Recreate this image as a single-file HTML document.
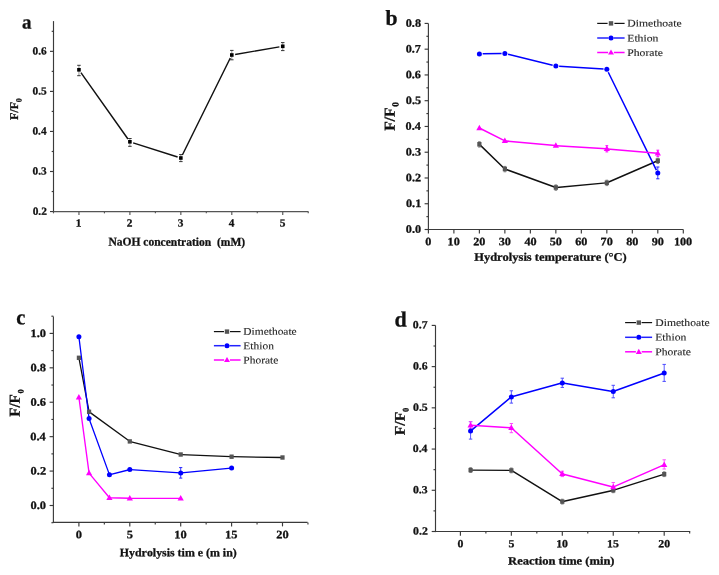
<!DOCTYPE html>
<html><head><meta charset="utf-8"><title>Figure</title>
<style>html,body{margin:0;padding:0;background:#fff;}svg{display:block;will-change:transform;}text{font-family:"Liberation Serif",serif;font-kerning:none;text-rendering:geometricPrecision;}text[font-weight="bold"]{stroke:#111;stroke-width:0.28px;}</style>
</head><body>
<svg width="719" height="575" viewBox="0 0 719 575">
<rect width="719" height="575" fill="#fff"/>
<line x1="53.5" y1="21.1" x2="53.5" y2="212.15" stroke="#3a3a3a" stroke-width="1.15"/>
<line x1="52.9" y1="211.55" x2="308.4" y2="211.55" stroke="#555" stroke-width="1.15"/>
<line x1="78.95" y1="211.55" x2="78.95" y2="215.05" stroke="#555" stroke-width="1.15"/>
<line x1="129.9" y1="211.55" x2="129.9" y2="215.05" stroke="#555" stroke-width="1.15"/>
<line x1="180.85" y1="211.55" x2="180.85" y2="215.05" stroke="#555" stroke-width="1.15"/>
<line x1="231.8" y1="211.55" x2="231.8" y2="215.05" stroke="#555" stroke-width="1.15"/>
<line x1="282.75" y1="211.55" x2="282.75" y2="215.05" stroke="#555" stroke-width="1.15"/>
<line x1="53.48" y1="211.55" x2="53.48" y2="213.35" stroke="#555" stroke-width="1.15"/>
<line x1="104.43" y1="211.55" x2="104.43" y2="213.35" stroke="#555" stroke-width="1.15"/>
<line x1="155.38" y1="211.55" x2="155.38" y2="213.35" stroke="#555" stroke-width="1.15"/>
<line x1="206.32" y1="211.55" x2="206.32" y2="213.35" stroke="#555" stroke-width="1.15"/>
<line x1="257.28" y1="211.55" x2="257.28" y2="213.35" stroke="#555" stroke-width="1.15"/>
<line x1="308.23" y1="211.55" x2="308.23" y2="213.35" stroke="#555" stroke-width="1.15"/>
<line x1="53.5" y1="211.55" x2="50" y2="211.55" stroke="#3a3a3a" stroke-width="1.15"/>
<line x1="53.5" y1="171.5" x2="50" y2="171.5" stroke="#3a3a3a" stroke-width="1.15"/>
<line x1="53.5" y1="131.45" x2="50" y2="131.45" stroke="#3a3a3a" stroke-width="1.15"/>
<line x1="53.5" y1="91.4" x2="50" y2="91.4" stroke="#3a3a3a" stroke-width="1.15"/>
<line x1="53.5" y1="51.35" x2="50" y2="51.35" stroke="#3a3a3a" stroke-width="1.15"/>
<line x1="53.5" y1="191.53" x2="51.7" y2="191.53" stroke="#3a3a3a" stroke-width="1.15"/>
<line x1="53.5" y1="151.48" x2="51.7" y2="151.48" stroke="#3a3a3a" stroke-width="1.15"/>
<line x1="53.5" y1="111.43" x2="51.7" y2="111.43" stroke="#3a3a3a" stroke-width="1.15"/>
<line x1="53.5" y1="71.38" x2="51.7" y2="71.38" stroke="#3a3a3a" stroke-width="1.15"/>
<line x1="53.5" y1="31.33" x2="51.7" y2="31.33" stroke="#3a3a3a" stroke-width="1.15"/>
<text transform="translate(32.67,214.65) scale(1.0400,1) rotate(0.03)" font-size="10.9" font-weight="bold" fill="#111">0.2</text>
<text transform="translate(32.57,174.6) scale(1.0400,1) rotate(0.03)" font-size="10.9" font-weight="bold" fill="#111">0.3</text>
<text transform="translate(32.39,134.55) scale(1.0400,1) rotate(0.03)" font-size="10.9" font-weight="bold" fill="#111">0.4</text>
<text transform="translate(32.6,94.5) scale(1.0400,1) rotate(0.03)" font-size="10.9" font-weight="bold" fill="#111">0.5</text>
<text transform="translate(32.51,54.45) scale(1.0400,1) rotate(0.03)" font-size="10.9" font-weight="bold" fill="#111">0.6</text>
<text transform="translate(75.76,226.5) scale(1.0400,1) rotate(0.03)" font-size="10.9" font-weight="bold" fill="#111">1</text>
<text transform="translate(126.87,226.5) scale(1.0400,1) rotate(0.03)" font-size="10.9" font-weight="bold" fill="#111">2</text>
<text transform="translate(177.8,226.5) scale(1.0400,1) rotate(0.03)" font-size="10.9" font-weight="bold" fill="#111">3</text>
<text transform="translate(228.79,226.5) scale(1.0400,1) rotate(0.03)" font-size="10.9" font-weight="bold" fill="#111">4</text>
<text transform="translate(279.7,226.5) scale(1.0400,1) rotate(0.03)" font-size="10.9" font-weight="bold" fill="#111">5</text>
<text transform="translate(108.38,245.6) scale(0.9696,1) rotate(0.03)" font-size="11.9" font-weight="bold" fill="#111" xml:space="preserve">NaOH concentration &#160;(mM)</text>
<g transform="translate(18.1,119.8) rotate(-89.97)"><text transform="translate(-0.2,0) scale(1.0075,1) rotate(0.03)" font-size="11.9" font-weight="bold" fill="#111">F/F</text></g>
<g transform="translate(21.5,101.9) rotate(-89.97)"><text x="-0.3" y="0" font-size="8.0" font-weight="bold" fill="#111">0</text></g>
<text transform="translate(22.09,28.6) scale(0.9694,1) rotate(0.03)" font-size="19.6" font-weight="bold" fill="#111" xml:space="preserve">a</text>
<line x1="78.95" y1="65.3" x2="78.95" y2="75.7" stroke="#888" stroke-width="0.9"/>
<line x1="77.2" y1="65.3" x2="80.7" y2="65.3" stroke="#333" stroke-width="1.0"/>
<line x1="77.2" y1="75.7" x2="80.7" y2="75.7" stroke="#333" stroke-width="1.0"/>
<line x1="129.9" y1="138.5" x2="129.9" y2="146.3" stroke="#888" stroke-width="0.9"/>
<line x1="128.15" y1="138.5" x2="131.65" y2="138.5" stroke="#333" stroke-width="1.0"/>
<line x1="128.15" y1="146.3" x2="131.65" y2="146.3" stroke="#333" stroke-width="1.0"/>
<line x1="180.85" y1="154.6" x2="180.85" y2="161.6" stroke="#888" stroke-width="0.9"/>
<line x1="179.1" y1="154.6" x2="182.6" y2="154.6" stroke="#333" stroke-width="1.0"/>
<line x1="179.1" y1="161.6" x2="182.6" y2="161.6" stroke="#333" stroke-width="1.0"/>
<line x1="231.8" y1="50.4" x2="231.8" y2="59.8" stroke="#888" stroke-width="0.9"/>
<line x1="230.05" y1="50.4" x2="233.55" y2="50.4" stroke="#333" stroke-width="1.0"/>
<line x1="230.05" y1="59.8" x2="233.55" y2="59.8" stroke="#333" stroke-width="1.0"/>
<line x1="282.75" y1="42.6" x2="282.75" y2="50.6" stroke="#888" stroke-width="0.9"/>
<line x1="281" y1="42.6" x2="284.5" y2="42.6" stroke="#333" stroke-width="1.0"/>
<line x1="281" y1="50.6" x2="284.5" y2="50.6" stroke="#333" stroke-width="1.0"/>
<path d="M80.91 72.58L127.94 139.02M133.14 142.83L177.61 156.97M182.36 154.95L230.29 58.05M235.15 54.43L279.4 46.87" fill="none" stroke="#111111" stroke-width="1.45"/>
<rect x="77.15" y="68" width="3.6" height="3.6" fill="#000"/>
<rect x="128.1" y="140" width="3.6" height="3.6" fill="#000"/>
<rect x="179.05" y="156.2" width="3.6" height="3.6" fill="#000"/>
<rect x="230" y="53.2" width="3.6" height="3.6" fill="#000"/>
<rect x="280.95" y="44.5" width="3.6" height="3.6" fill="#000"/>
<line x1="428.4" y1="23.5" x2="428.4" y2="230.1" stroke="#3a3a3a" stroke-width="1.15"/>
<line x1="427.8" y1="229.5" x2="683.3" y2="229.5" stroke="#3a3a3a" stroke-width="1.15"/>
<line x1="428.4" y1="229.5" x2="428.4" y2="233.6" stroke="#3a3a3a" stroke-width="1.15"/>
<line x1="453.89" y1="229.5" x2="453.89" y2="233.6" stroke="#3a3a3a" stroke-width="1.15"/>
<line x1="479.38" y1="229.5" x2="479.38" y2="233.6" stroke="#3a3a3a" stroke-width="1.15"/>
<line x1="504.87" y1="229.5" x2="504.87" y2="233.6" stroke="#3a3a3a" stroke-width="1.15"/>
<line x1="530.36" y1="229.5" x2="530.36" y2="233.6" stroke="#3a3a3a" stroke-width="1.15"/>
<line x1="555.85" y1="229.5" x2="555.85" y2="233.6" stroke="#3a3a3a" stroke-width="1.15"/>
<line x1="581.34" y1="229.5" x2="581.34" y2="233.6" stroke="#3a3a3a" stroke-width="1.15"/>
<line x1="606.83" y1="229.5" x2="606.83" y2="233.6" stroke="#3a3a3a" stroke-width="1.15"/>
<line x1="632.32" y1="229.5" x2="632.32" y2="233.6" stroke="#3a3a3a" stroke-width="1.15"/>
<line x1="657.81" y1="229.5" x2="657.81" y2="233.6" stroke="#3a3a3a" stroke-width="1.15"/>
<line x1="683.3" y1="229.5" x2="683.3" y2="233.6" stroke="#3a3a3a" stroke-width="1.15"/>
<line x1="428.4" y1="229.5" x2="424.6" y2="229.5" stroke="#3a3a3a" stroke-width="1.15"/>
<line x1="428.4" y1="203.74" x2="424.6" y2="203.74" stroke="#3a3a3a" stroke-width="1.15"/>
<line x1="428.4" y1="177.98" x2="424.6" y2="177.98" stroke="#3a3a3a" stroke-width="1.15"/>
<line x1="428.4" y1="152.22" x2="424.6" y2="152.22" stroke="#3a3a3a" stroke-width="1.15"/>
<line x1="428.4" y1="126.46" x2="424.6" y2="126.46" stroke="#3a3a3a" stroke-width="1.15"/>
<line x1="428.4" y1="100.7" x2="424.6" y2="100.7" stroke="#3a3a3a" stroke-width="1.15"/>
<line x1="428.4" y1="74.94" x2="424.6" y2="74.94" stroke="#3a3a3a" stroke-width="1.15"/>
<line x1="428.4" y1="49.18" x2="424.6" y2="49.18" stroke="#3a3a3a" stroke-width="1.15"/>
<line x1="428.4" y1="23.42" x2="424.6" y2="23.42" stroke="#3a3a3a" stroke-width="1.15"/>
<line x1="428.4" y1="216.62" x2="426.4" y2="216.62" stroke="#3a3a3a" stroke-width="1.15"/>
<line x1="428.4" y1="190.86" x2="426.4" y2="190.86" stroke="#3a3a3a" stroke-width="1.15"/>
<line x1="428.4" y1="165.1" x2="426.4" y2="165.1" stroke="#3a3a3a" stroke-width="1.15"/>
<line x1="428.4" y1="139.34" x2="426.4" y2="139.34" stroke="#3a3a3a" stroke-width="1.15"/>
<line x1="428.4" y1="113.58" x2="426.4" y2="113.58" stroke="#3a3a3a" stroke-width="1.15"/>
<line x1="428.4" y1="87.82" x2="426.4" y2="87.82" stroke="#3a3a3a" stroke-width="1.15"/>
<line x1="428.4" y1="62.06" x2="426.4" y2="62.06" stroke="#3a3a3a" stroke-width="1.15"/>
<line x1="428.4" y1="36.3" x2="426.4" y2="36.3" stroke="#3a3a3a" stroke-width="1.15"/>
<text transform="translate(405.81,232.78) scale(1.0800,1) rotate(0.03)" font-size="11.3" font-weight="bold" fill="#111">0.0</text>
<text transform="translate(405.98,207.02) scale(1.0800,1) rotate(0.03)" font-size="11.3" font-weight="bold" fill="#111">0.1</text>
<text transform="translate(405.87,181.26) scale(1.0800,1) rotate(0.03)" font-size="11.3" font-weight="bold" fill="#111">0.2</text>
<text transform="translate(405.76,155.5) scale(1.0800,1) rotate(0.03)" font-size="11.3" font-weight="bold" fill="#111">0.3</text>
<text transform="translate(405.57,129.74) scale(1.0800,1) rotate(0.03)" font-size="11.3" font-weight="bold" fill="#111">0.4</text>
<text transform="translate(405.79,103.98) scale(1.0800,1) rotate(0.03)" font-size="11.3" font-weight="bold" fill="#111">0.5</text>
<text transform="translate(405.7,78.22) scale(1.0800,1) rotate(0.03)" font-size="11.3" font-weight="bold" fill="#111">0.6</text>
<text transform="translate(405.64,52.46) scale(1.0800,1) rotate(0.03)" font-size="11.3" font-weight="bold" fill="#111">0.7</text>
<text transform="translate(405.75,26.7) scale(1.0800,1) rotate(0.03)" font-size="11.3" font-weight="bold" fill="#111">0.8</text>
<text transform="translate(425.35,245.3) scale(1.0800,1) rotate(0.03)" font-size="11.3" font-weight="bold" fill="#111">0</text>
<text transform="translate(447.53,245.3) scale(1.0800,1) rotate(0.03)" font-size="11.3" font-weight="bold" fill="#111">10</text>
<text transform="translate(473.25,245.3) scale(1.0800,1) rotate(0.03)" font-size="11.3" font-weight="bold" fill="#111">20</text>
<text transform="translate(498.77,245.3) scale(1.0800,1) rotate(0.03)" font-size="11.3" font-weight="bold" fill="#111">30</text>
<text transform="translate(524.41,245.3) scale(1.0800,1) rotate(0.03)" font-size="11.3" font-weight="bold" fill="#111">40</text>
<text transform="translate(549.74,245.3) scale(1.0800,1) rotate(0.03)" font-size="11.3" font-weight="bold" fill="#111">50</text>
<text transform="translate(575.26,245.3) scale(1.0800,1) rotate(0.03)" font-size="11.3" font-weight="bold" fill="#111">60</text>
<text transform="translate(600.61,245.3) scale(1.0800,1) rotate(0.03)" font-size="11.3" font-weight="bold" fill="#111">70</text>
<text transform="translate(626.25,245.3) scale(1.0800,1) rotate(0.03)" font-size="11.3" font-weight="bold" fill="#111">80</text>
<text transform="translate(651.77,245.3) scale(1.0800,1) rotate(0.03)" font-size="11.3" font-weight="bold" fill="#111">90</text>
<text transform="translate(673.89,245.3) scale(1.0800,1) rotate(0.03)" font-size="11.3" font-weight="bold" fill="#111">100</text>
<text transform="translate(474.19,260.8) scale(1.0760,1) rotate(0.03)" font-size="11.6" font-weight="bold" fill="#111" xml:space="preserve">Hydrolysis temperature (&#176;C)</text>
<g transform="translate(394.7,130.6) rotate(-89.97)"><text transform="translate(-0.27,0) scale(1.0160,1) rotate(0.03)" font-size="15.3" font-weight="bold" fill="#111">F/F</text></g>
<g transform="translate(398.5,106.5) rotate(-89.97)"><text x="-0.36" y="0" font-size="9.4" font-weight="bold" fill="#111">0</text></g>
<text transform="translate(385.52,25.1) scale(1.0080,1) rotate(0.03)" font-size="21.5" font-weight="bold" fill="#111" xml:space="preserve">b</text>
<line x1="479.38" y1="141.7" x2="479.38" y2="147.1" stroke="#888" stroke-width="0.9"/>
<line x1="478.08" y1="141.7" x2="480.68" y2="141.7" stroke="#888" stroke-width="1.0"/>
<line x1="478.08" y1="147.1" x2="480.68" y2="147.1" stroke="#888" stroke-width="1.0"/>
<line x1="504.87" y1="166.4" x2="504.87" y2="171.8" stroke="#888" stroke-width="0.9"/>
<line x1="503.57" y1="166.4" x2="506.17" y2="166.4" stroke="#888" stroke-width="1.0"/>
<line x1="503.57" y1="171.8" x2="506.17" y2="171.8" stroke="#888" stroke-width="1.0"/>
<line x1="555.85" y1="184.9" x2="555.85" y2="190.3" stroke="#888" stroke-width="0.9"/>
<line x1="554.55" y1="184.9" x2="557.15" y2="184.9" stroke="#888" stroke-width="1.0"/>
<line x1="554.55" y1="190.3" x2="557.15" y2="190.3" stroke="#888" stroke-width="1.0"/>
<line x1="606.83" y1="180.2" x2="606.83" y2="185.6" stroke="#888" stroke-width="0.9"/>
<line x1="605.53" y1="180.2" x2="608.13" y2="180.2" stroke="#888" stroke-width="1.0"/>
<line x1="605.53" y1="185.6" x2="608.13" y2="185.6" stroke="#888" stroke-width="1.0"/>
<line x1="657.81" y1="158.1" x2="657.81" y2="163.5" stroke="#888" stroke-width="0.9"/>
<line x1="656.51" y1="158.1" x2="659.11" y2="158.1" stroke="#888" stroke-width="1.0"/>
<line x1="656.51" y1="163.5" x2="659.11" y2="163.5" stroke="#888" stroke-width="1.0"/>
<line x1="657.81" y1="167" x2="657.81" y2="178.8" stroke="#2222ff" stroke-width="0.9"/>
<line x1="656.21" y1="167" x2="659.41" y2="167" stroke="#2222ff" stroke-width="1.0"/>
<line x1="656.21" y1="178.8" x2="659.41" y2="178.8" stroke="#2222ff" stroke-width="1.0"/>
<line x1="606.83" y1="145.7" x2="606.83" y2="151.9" stroke="#ff00ff" stroke-width="0.9"/>
<line x1="605.43" y1="145.7" x2="608.23" y2="145.7" stroke="#ff00ff" stroke-width="1.0"/>
<line x1="605.43" y1="151.9" x2="608.23" y2="151.9" stroke="#ff00ff" stroke-width="1.0"/>
<line x1="657.81" y1="150.2" x2="657.81" y2="156.4" stroke="#ff00ff" stroke-width="0.9"/>
<line x1="656.41" y1="150.2" x2="659.21" y2="150.2" stroke="#ff00ff" stroke-width="1.0"/>
<line x1="656.41" y1="156.4" x2="659.21" y2="156.4" stroke="#ff00ff" stroke-width="1.0"/>
<path d="M479.95 144.86L504.3 168.44M505.62 169.27L555.1 187.23M556.65 187.43L606.03 182.87M607.56 182.48L657.08 161.02" fill="none" stroke="#111111" stroke-width="1.45"/>
<path d="M482.68 53.85L501.57 53.55M508.08 54.29L552.64 65.21M559.14 66.21L603.54 69.09M608.28 72.26L656.36 170.14" fill="none" stroke="#0000ff" stroke-width="1.5"/>
<path d="M479.83 128.23L504.42 140.67M505.37 140.95L555.35 145.55M556.35 145.63L606.33 148.87M607.33 148.94L657.31 153.36" fill="none" stroke="#ff00ff" stroke-width="1.5"/>
<rect x="477.28" y="142" width="4.2" height="4.6" fill="#555555"/>
<rect x="502.77" y="166.7" width="4.2" height="4.6" fill="#555555"/>
<rect x="553.75" y="185.2" width="4.2" height="4.6" fill="#555555"/>
<rect x="604.73" y="180.5" width="4.2" height="4.6" fill="#555555"/>
<rect x="655.71" y="158.4" width="4.2" height="4.6" fill="#555555"/>
<circle cx="479.38" cy="53.9" r="2.5" fill="#0000ff"/>
<circle cx="504.87" cy="53.5" r="2.5" fill="#0000ff"/>
<circle cx="555.85" cy="66" r="2.5" fill="#0000ff"/>
<circle cx="606.83" cy="69.3" r="2.5" fill="#0000ff"/>
<circle cx="657.81" cy="173.1" r="2.5" fill="#0000ff"/>
<polygon points="479.38,124.7 476.28,130.2 482.48,130.2" fill="#ff00ff"/>
<polygon points="504.87,137.6 501.77,143.1 507.97,143.1" fill="#ff00ff"/>
<polygon points="555.85,142.3 552.75,147.8 558.95,147.8" fill="#ff00ff"/>
<polygon points="606.83,145.6 603.73,151.1 609.93,151.1" fill="#ff00ff"/>
<polygon points="657.81,150.1 654.71,155.6 660.91,155.6" fill="#ff00ff"/>
<line x1="597.2" y1="23.4" x2="607.6" y2="23.4" stroke="#111111" stroke-width="1.2"/>
<line x1="614.4" y1="23.4" x2="624.6" y2="23.4" stroke="#111111" stroke-width="1.2"/>
<rect x="608.8" y="21.2" width="4.4" height="4.4" fill="#555555"/>
<text transform="translate(627.26,26.6) scale(1.1550,1) rotate(0.03)" font-size="10.1" fill="#262626" stroke="#262626" stroke-width="0.12">Dimethoate</text>
<line x1="597.2" y1="38" x2="608.5" y2="38" stroke="#2222ff" stroke-width="1.5"/>
<line x1="613.5" y1="38" x2="624.6" y2="38" stroke="#2222ff" stroke-width="1.5"/>
<circle cx="611" cy="38" r="2.5" fill="#0000ff"/>
<text transform="translate(627.26,41.4) scale(1.1550,1) rotate(0.03)" font-size="10.1" fill="#262626" stroke="#262626" stroke-width="0.12">Ethion</text>
<line x1="597.2" y1="52.5" x2="608.1" y2="52.5" stroke="#ff00ff" stroke-width="1.5"/>
<line x1="613.9" y1="52.5" x2="624.6" y2="52.5" stroke="#ff00ff" stroke-width="1.5"/>
<polygon points="611,49.38 608,54.58 614,54.58" fill="#ff00ff"/>
<text transform="translate(627.26,56) scale(1.1550,1) rotate(0.03)" font-size="10.1" fill="#262626" stroke="#262626" stroke-width="0.12">Phorate</text>
<line x1="53.4" y1="316.4" x2="53.4" y2="523" stroke="#3a3a3a" stroke-width="1.15"/>
<line x1="52.8" y1="522.4" x2="307.6" y2="522.4" stroke="#3a3a3a" stroke-width="1.15"/>
<line x1="78.9" y1="522.4" x2="78.9" y2="526.4" stroke="#3a3a3a" stroke-width="1.15"/>
<line x1="129.8" y1="522.4" x2="129.8" y2="526.4" stroke="#3a3a3a" stroke-width="1.15"/>
<line x1="180.7" y1="522.4" x2="180.7" y2="526.4" stroke="#3a3a3a" stroke-width="1.15"/>
<line x1="231.6" y1="522.4" x2="231.6" y2="526.4" stroke="#3a3a3a" stroke-width="1.15"/>
<line x1="282.5" y1="522.4" x2="282.5" y2="526.4" stroke="#3a3a3a" stroke-width="1.15"/>
<line x1="104.35" y1="522.4" x2="104.35" y2="524.4" stroke="#3a3a3a" stroke-width="1.15"/>
<line x1="155.25" y1="522.4" x2="155.25" y2="524.4" stroke="#3a3a3a" stroke-width="1.15"/>
<line x1="206.15" y1="522.4" x2="206.15" y2="524.4" stroke="#3a3a3a" stroke-width="1.15"/>
<line x1="257.05" y1="522.4" x2="257.05" y2="524.4" stroke="#3a3a3a" stroke-width="1.15"/>
<line x1="307.95" y1="522.4" x2="307.95" y2="524.4" stroke="#3a3a3a" stroke-width="1.15"/>
<line x1="53.4" y1="505.5" x2="49.6" y2="505.5" stroke="#3a3a3a" stroke-width="1.15"/>
<line x1="53.4" y1="471.08" x2="49.6" y2="471.08" stroke="#3a3a3a" stroke-width="1.15"/>
<line x1="53.4" y1="436.66" x2="49.6" y2="436.66" stroke="#3a3a3a" stroke-width="1.15"/>
<line x1="53.4" y1="402.24" x2="49.6" y2="402.24" stroke="#3a3a3a" stroke-width="1.15"/>
<line x1="53.4" y1="367.82" x2="49.6" y2="367.82" stroke="#3a3a3a" stroke-width="1.15"/>
<line x1="53.4" y1="333.4" x2="49.6" y2="333.4" stroke="#3a3a3a" stroke-width="1.15"/>
<line x1="53.4" y1="488.29" x2="51.4" y2="488.29" stroke="#3a3a3a" stroke-width="1.15"/>
<line x1="53.4" y1="453.87" x2="51.4" y2="453.87" stroke="#3a3a3a" stroke-width="1.15"/>
<line x1="53.4" y1="419.45" x2="51.4" y2="419.45" stroke="#3a3a3a" stroke-width="1.15"/>
<line x1="53.4" y1="385.03" x2="51.4" y2="385.03" stroke="#3a3a3a" stroke-width="1.15"/>
<line x1="53.4" y1="350.61" x2="51.4" y2="350.61" stroke="#3a3a3a" stroke-width="1.15"/>
<line x1="53.4" y1="316.19" x2="51.4" y2="316.19" stroke="#3a3a3a" stroke-width="1.15"/>
<line x1="53.4" y1="522.71" x2="51.4" y2="522.71" stroke="#3a3a3a" stroke-width="1.15"/>
<text transform="translate(30.54,508.98) scale(1.1000,1) rotate(0.03)" font-size="11.3" font-weight="bold" fill="#111">0.0</text>
<text transform="translate(30.6,474.56) scale(1.1000,1) rotate(0.03)" font-size="11.3" font-weight="bold" fill="#111">0.2</text>
<text transform="translate(30.29,440.14) scale(1.1000,1) rotate(0.03)" font-size="11.3" font-weight="bold" fill="#111">0.4</text>
<text transform="translate(30.43,405.72) scale(1.1000,1) rotate(0.03)" font-size="11.3" font-weight="bold" fill="#111">0.6</text>
<text transform="translate(30.48,371.3) scale(1.1000,1) rotate(0.03)" font-size="11.3" font-weight="bold" fill="#111">0.8</text>
<text transform="translate(30.54,336.88) scale(1.1000,1) rotate(0.03)" font-size="11.3" font-weight="bold" fill="#111">1.0</text>
<text transform="translate(75.79,538.3) scale(1.1000,1) rotate(0.03)" font-size="11.3" font-weight="bold" fill="#111">0</text>
<text transform="translate(126.67,538.3) scale(1.1000,1) rotate(0.03)" font-size="11.3" font-weight="bold" fill="#111">5</text>
<text transform="translate(174.22,538.3) scale(1.1000,1) rotate(0.03)" font-size="11.3" font-weight="bold" fill="#111">10</text>
<text transform="translate(225.11,538.3) scale(1.1000,1) rotate(0.03)" font-size="11.3" font-weight="bold" fill="#111">15</text>
<text transform="translate(276.26,538.3) scale(1.1000,1) rotate(0.03)" font-size="11.3" font-weight="bold" fill="#111">20</text>
<text transform="translate(119.8,556.2) scale(1.0440,1) rotate(0.03)" font-size="11.4" font-weight="bold" fill="#111" xml:space="preserve">Hydrolysis tim e (m in)</text>
<g transform="translate(19.7,416.6) rotate(-89.97)"><text transform="translate(-0.26,0) scale(0.9887,1) rotate(0.03)" font-size="15.3" font-weight="bold" fill="#111">F/F</text></g>
<g transform="translate(23.5,393.1) rotate(-89.97)"><text x="-0.32" y="0" font-size="8.4" font-weight="bold" fill="#111">0</text></g>
<text transform="translate(16.3,324.2) scale(0.9777,1) rotate(0.03)" font-size="21.0" font-weight="bold" fill="#111" xml:space="preserve">c</text>
<line x1="180.7" y1="467.6" x2="180.7" y2="478.1" stroke="#2222ff" stroke-width="0.9"/>
<line x1="179.1" y1="467.6" x2="182.3" y2="467.6" stroke="#2222ff" stroke-width="1.0"/>
<line x1="179.1" y1="478.1" x2="182.3" y2="478.1" stroke="#2222ff" stroke-width="1.0"/>
<path d="M79.01 358.39L88.97 411.21M89.57 412.15L129.31 441.05M130.38 441.55L180.12 454.35M181.3 454.53L231 456.67M232.2 456.71L281.9 457.49" fill="none" stroke="#111111" stroke-width="1.3"/>
<path d="M78.97 337.3L89.01 418M89.28 419.16L109.24 474.14M110.02 474.55L129.22 469.75M130.4 469.64L180.1 472.86M181.3 472.84L231 468.16" fill="none" stroke="#0000ff" stroke-width="1.3"/>
<path d="M78.94 397.6L89.04 472.8M89.27 473.33L109.25 497.47M109.74 497.71L129.5 498.29M130.1 498.3L180.4 498.4" fill="none" stroke="#ff00ff" stroke-width="1.35"/>
<rect x="76.8" y="355.6" width="4.2" height="4.4" fill="#555555"/>
<rect x="86.98" y="409.6" width="4.2" height="4.4" fill="#555555"/>
<rect x="127.7" y="439.2" width="4.2" height="4.4" fill="#555555"/>
<rect x="178.6" y="452.3" width="4.2" height="4.4" fill="#555555"/>
<rect x="229.5" y="454.5" width="4.2" height="4.4" fill="#555555"/>
<rect x="280.4" y="455.3" width="4.2" height="4.4" fill="#555555"/>
<circle cx="78.9" cy="336.7" r="2.5" fill="#0000ff"/>
<circle cx="89.08" cy="418.6" r="2.5" fill="#0000ff"/>
<circle cx="109.44" cy="474.7" r="2.5" fill="#0000ff"/>
<circle cx="129.8" cy="469.6" r="2.5" fill="#0000ff"/>
<circle cx="180.7" cy="472.9" r="2.5" fill="#0000ff"/>
<circle cx="231.6" cy="468.1" r="2.5" fill="#0000ff"/>
<polygon points="78.9,394 75.8,399.5 82,399.5" fill="#ff00ff"/>
<polygon points="89.08,469.8 85.98,475.3 92.18,475.3" fill="#ff00ff"/>
<polygon points="109.44,494.4 106.34,499.9 112.54,499.9" fill="#ff00ff"/>
<polygon points="129.8,495 126.7,500.5 132.9,500.5" fill="#ff00ff"/>
<polygon points="180.7,495.1 177.6,500.6 183.8,500.6" fill="#ff00ff"/>
<line x1="213.9" y1="331.6" x2="224" y2="331.6" stroke="#111111" stroke-width="1.2"/>
<line x1="230" y1="331.6" x2="240.6" y2="331.6" stroke="#111111" stroke-width="1.2"/>
<rect x="224.8" y="329.4" width="4.4" height="4.4" fill="#555555"/>
<text transform="translate(243.37,334.8) scale(1.1000,1) rotate(0.03)" font-size="10.4" fill="#262626" stroke="#262626" stroke-width="0.12">Dimethoate</text>
<line x1="213.9" y1="345.7" x2="224.5" y2="345.7" stroke="#2222ff" stroke-width="1.5"/>
<line x1="229.5" y1="345.7" x2="240.6" y2="345.7" stroke="#2222ff" stroke-width="1.5"/>
<circle cx="227" cy="345.7" r="2.5" fill="#0000ff"/>
<text transform="translate(243.37,349.2) scale(1.1000,1) rotate(0.03)" font-size="10.4" fill="#262626" stroke="#262626" stroke-width="0.12">Ethion</text>
<line x1="213.9" y1="360" x2="224.1" y2="360" stroke="#ff00ff" stroke-width="1.5"/>
<line x1="229.9" y1="360" x2="240.6" y2="360" stroke="#ff00ff" stroke-width="1.5"/>
<polygon points="227,356.88 224,362.08 230,362.08" fill="#ff00ff"/>
<text transform="translate(243.37,363.5) scale(1.1000,1) rotate(0.03)" font-size="10.4" fill="#262626" stroke="#262626" stroke-width="0.12">Phorate</text>
<line x1="435.5" y1="325.4" x2="435.5" y2="532.1" stroke="#3a3a3a" stroke-width="1.15"/>
<line x1="434.9" y1="531.5" x2="690.2" y2="531.5" stroke="#3a3a3a" stroke-width="1.15"/>
<line x1="460.4" y1="531.5" x2="460.4" y2="535.7" stroke="#3a3a3a" stroke-width="1.15"/>
<line x1="511.35" y1="531.5" x2="511.35" y2="535.7" stroke="#3a3a3a" stroke-width="1.15"/>
<line x1="562.3" y1="531.5" x2="562.3" y2="535.7" stroke="#3a3a3a" stroke-width="1.15"/>
<line x1="613.25" y1="531.5" x2="613.25" y2="535.7" stroke="#3a3a3a" stroke-width="1.15"/>
<line x1="664.2" y1="531.5" x2="664.2" y2="535.7" stroke="#3a3a3a" stroke-width="1.15"/>
<line x1="485.88" y1="531.5" x2="485.88" y2="533.5" stroke="#3a3a3a" stroke-width="1.15"/>
<line x1="536.82" y1="531.5" x2="536.82" y2="533.5" stroke="#3a3a3a" stroke-width="1.15"/>
<line x1="587.77" y1="531.5" x2="587.77" y2="533.5" stroke="#3a3a3a" stroke-width="1.15"/>
<line x1="638.72" y1="531.5" x2="638.72" y2="533.5" stroke="#3a3a3a" stroke-width="1.15"/>
<line x1="689.67" y1="531.5" x2="689.67" y2="533.5" stroke="#3a3a3a" stroke-width="1.15"/>
<line x1="435.5" y1="531.5" x2="431.7" y2="531.5" stroke="#3a3a3a" stroke-width="1.15"/>
<line x1="435.5" y1="490.28" x2="431.7" y2="490.28" stroke="#3a3a3a" stroke-width="1.15"/>
<line x1="435.5" y1="449.06" x2="431.7" y2="449.06" stroke="#3a3a3a" stroke-width="1.15"/>
<line x1="435.5" y1="407.84" x2="431.7" y2="407.84" stroke="#3a3a3a" stroke-width="1.15"/>
<line x1="435.5" y1="366.62" x2="431.7" y2="366.62" stroke="#3a3a3a" stroke-width="1.15"/>
<line x1="435.5" y1="325.4" x2="431.7" y2="325.4" stroke="#3a3a3a" stroke-width="1.15"/>
<line x1="435.5" y1="510.89" x2="433.5" y2="510.89" stroke="#3a3a3a" stroke-width="1.15"/>
<line x1="435.5" y1="469.67" x2="433.5" y2="469.67" stroke="#3a3a3a" stroke-width="1.15"/>
<line x1="435.5" y1="428.45" x2="433.5" y2="428.45" stroke="#3a3a3a" stroke-width="1.15"/>
<line x1="435.5" y1="387.23" x2="433.5" y2="387.23" stroke="#3a3a3a" stroke-width="1.15"/>
<line x1="435.5" y1="346.01" x2="433.5" y2="346.01" stroke="#3a3a3a" stroke-width="1.15"/>
<text transform="translate(413.09,534.45) scale(1.0800,1) rotate(0.03)" font-size="10.9" font-weight="bold" fill="#111">0.2</text>
<text transform="translate(412.99,493.23) scale(1.0800,1) rotate(0.03)" font-size="10.9" font-weight="bold" fill="#111">0.3</text>
<text transform="translate(412.8,452.01) scale(1.0800,1) rotate(0.03)" font-size="10.9" font-weight="bold" fill="#111">0.4</text>
<text transform="translate(413.02,410.79) scale(1.0800,1) rotate(0.03)" font-size="10.9" font-weight="bold" fill="#111">0.5</text>
<text transform="translate(412.93,369.57) scale(1.0800,1) rotate(0.03)" font-size="10.9" font-weight="bold" fill="#111">0.6</text>
<text transform="translate(412.87,328.35) scale(1.0800,1) rotate(0.03)" font-size="10.9" font-weight="bold" fill="#111">0.7</text>
<text transform="translate(457.46,547.2) scale(1.0800,1) rotate(0.03)" font-size="10.9" font-weight="bold" fill="#111">0</text>
<text transform="translate(508.39,547.2) scale(1.0800,1) rotate(0.03)" font-size="10.9" font-weight="bold" fill="#111">5</text>
<text transform="translate(556.17,547.2) scale(1.0800,1) rotate(0.03)" font-size="10.9" font-weight="bold" fill="#111">10</text>
<text transform="translate(607.11,547.2) scale(1.0800,1) rotate(0.03)" font-size="10.9" font-weight="bold" fill="#111">15</text>
<text transform="translate(658.29,547.2) scale(1.0800,1) rotate(0.03)" font-size="10.9" font-weight="bold" fill="#111">20</text>
<text transform="translate(508.09,564.5) scale(1.1197,1) rotate(0.03)" font-size="11.2" font-weight="bold" fill="#111" xml:space="preserve">Reaction time (min)</text>
<g transform="translate(404.7,434.9) rotate(-89.97)"><text transform="translate(-0.27,0) scale(1.0503,1) rotate(0.03)" font-size="14.8" font-weight="bold" fill="#111">F/F</text></g>
<g transform="translate(408.5,411.7) rotate(-89.97)"><text x="-0.33" y="0" font-size="8.6" font-weight="bold" fill="#111">0</text></g>
<text transform="translate(394.61,326.4) scale(1.0095,1) rotate(0.03)" font-size="21.8" font-weight="bold" fill="#111" xml:space="preserve">d</text>
<line x1="470.59" y1="467.7" x2="470.59" y2="472.5" stroke="#888" stroke-width="0.9"/>
<line x1="469.29" y1="467.7" x2="471.89" y2="467.7" stroke="#888" stroke-width="1.0"/>
<line x1="469.29" y1="472.5" x2="471.89" y2="472.5" stroke="#888" stroke-width="1.0"/>
<line x1="511.35" y1="468" x2="511.35" y2="472.8" stroke="#888" stroke-width="0.9"/>
<line x1="510.05" y1="468" x2="512.65" y2="468" stroke="#888" stroke-width="1.0"/>
<line x1="510.05" y1="472.8" x2="512.65" y2="472.8" stroke="#888" stroke-width="1.0"/>
<line x1="562.3" y1="499.2" x2="562.3" y2="504" stroke="#888" stroke-width="0.9"/>
<line x1="561" y1="499.2" x2="563.6" y2="499.2" stroke="#888" stroke-width="1.0"/>
<line x1="561" y1="504" x2="563.6" y2="504" stroke="#888" stroke-width="1.0"/>
<line x1="613.25" y1="487.9" x2="613.25" y2="492.7" stroke="#888" stroke-width="0.9"/>
<line x1="611.95" y1="487.9" x2="614.55" y2="487.9" stroke="#888" stroke-width="1.0"/>
<line x1="611.95" y1="492.7" x2="614.55" y2="492.7" stroke="#888" stroke-width="1.0"/>
<line x1="664.2" y1="471.8" x2="664.2" y2="476.6" stroke="#888" stroke-width="0.9"/>
<line x1="662.9" y1="471.8" x2="665.5" y2="471.8" stroke="#888" stroke-width="1.0"/>
<line x1="662.9" y1="476.6" x2="665.5" y2="476.6" stroke="#888" stroke-width="1.0"/>
<line x1="470.59" y1="421.7" x2="470.59" y2="439.1" stroke="#4a4aff" stroke-width="0.9"/>
<line x1="468.89" y1="421.7" x2="472.29" y2="421.7" stroke="#4a4aff" stroke-width="1.0"/>
<line x1="468.89" y1="439.1" x2="472.29" y2="439.1" stroke="#4a4aff" stroke-width="1.0"/>
<line x1="511.35" y1="390.8" x2="511.35" y2="403.1" stroke="#4a4aff" stroke-width="0.9"/>
<line x1="509.65" y1="390.8" x2="513.05" y2="390.8" stroke="#4a4aff" stroke-width="1.0"/>
<line x1="509.65" y1="403.1" x2="513.05" y2="403.1" stroke="#4a4aff" stroke-width="1.0"/>
<line x1="562.3" y1="378.2" x2="562.3" y2="387.4" stroke="#4a4aff" stroke-width="0.9"/>
<line x1="560.6" y1="378.2" x2="564" y2="378.2" stroke="#4a4aff" stroke-width="1.0"/>
<line x1="560.6" y1="387.4" x2="564" y2="387.4" stroke="#4a4aff" stroke-width="1.0"/>
<line x1="613.25" y1="385.3" x2="613.25" y2="397.8" stroke="#4a4aff" stroke-width="0.9"/>
<line x1="611.55" y1="385.3" x2="614.95" y2="385.3" stroke="#4a4aff" stroke-width="1.0"/>
<line x1="611.55" y1="397.8" x2="614.95" y2="397.8" stroke="#4a4aff" stroke-width="1.0"/>
<line x1="664.2" y1="364.4" x2="664.2" y2="381.4" stroke="#4a4aff" stroke-width="0.9"/>
<line x1="662.5" y1="364.4" x2="665.9" y2="364.4" stroke="#4a4aff" stroke-width="1.0"/>
<line x1="662.5" y1="381.4" x2="665.9" y2="381.4" stroke="#4a4aff" stroke-width="1.0"/>
<line x1="470.59" y1="421.7" x2="470.59" y2="428.4" stroke="#ff4aff" stroke-width="0.9"/>
<line x1="468.89" y1="421.7" x2="472.29" y2="421.7" stroke="#ff4aff" stroke-width="1.0"/>
<line x1="468.89" y1="428.4" x2="472.29" y2="428.4" stroke="#ff4aff" stroke-width="1.0"/>
<line x1="511.35" y1="423.5" x2="511.35" y2="432.7" stroke="#ff4aff" stroke-width="0.9"/>
<line x1="509.65" y1="423.5" x2="513.05" y2="423.5" stroke="#ff4aff" stroke-width="1.0"/>
<line x1="509.65" y1="432.7" x2="513.05" y2="432.7" stroke="#ff4aff" stroke-width="1.0"/>
<line x1="562.3" y1="471.2" x2="562.3" y2="476.6" stroke="#ff4aff" stroke-width="0.9"/>
<line x1="560.6" y1="471.2" x2="564" y2="471.2" stroke="#ff4aff" stroke-width="1.0"/>
<line x1="560.6" y1="476.6" x2="564" y2="476.6" stroke="#ff4aff" stroke-width="1.0"/>
<line x1="613.25" y1="482.5" x2="613.25" y2="491.5" stroke="#ff4aff" stroke-width="0.9"/>
<line x1="611.55" y1="482.5" x2="614.95" y2="482.5" stroke="#ff4aff" stroke-width="1.0"/>
<line x1="611.55" y1="491.5" x2="614.95" y2="491.5" stroke="#ff4aff" stroke-width="1.0"/>
<line x1="664.2" y1="459.8" x2="664.2" y2="469" stroke="#ff4aff" stroke-width="0.9"/>
<line x1="662.5" y1="459.8" x2="665.9" y2="459.8" stroke="#ff4aff" stroke-width="1.0"/>
<line x1="662.5" y1="469" x2="665.9" y2="469" stroke="#ff4aff" stroke-width="1.0"/>
<path d="M471.19 470.1L510.75 470.4M511.86 470.71L561.79 501.29M562.89 501.47L612.66 490.43M613.82 490.12L663.63 474.38" fill="none" stroke="#111111" stroke-width="1.45"/>
<path d="M471.05 430.62L510.89 397.28M511.93 396.74L561.72 383.06M562.89 383L612.66 391.4M613.81 391.3L663.64 373.2" fill="none" stroke="#0000ff" stroke-width="1.5"/>
<path d="M470.89 425.22L511.05 427.78M511.57 428L562.08 473.7M562.59 473.97L612.96 486.93M613.53 486.88L663.92 464.92" fill="none" stroke="#ff00ff" stroke-width="1.5"/>
<rect x="468.49" y="467.9" width="4.2" height="4.4" fill="#555555"/>
<rect x="509.25" y="468.2" width="4.2" height="4.4" fill="#555555"/>
<rect x="560.2" y="499.4" width="4.2" height="4.4" fill="#555555"/>
<rect x="611.15" y="488.1" width="4.2" height="4.4" fill="#555555"/>
<rect x="662.1" y="472" width="4.2" height="4.4" fill="#555555"/>
<circle cx="470.59" cy="431" r="2.5" fill="#0000ff"/>
<circle cx="511.35" cy="396.9" r="2.5" fill="#0000ff"/>
<circle cx="562.3" cy="382.9" r="2.5" fill="#0000ff"/>
<circle cx="613.25" cy="391.5" r="2.5" fill="#0000ff"/>
<circle cx="664.2" cy="373" r="2.5" fill="#0000ff"/>
<polygon points="470.59,421.9 467.49,427.4 473.69,427.4" fill="#ff00ff"/>
<polygon points="511.35,424.5 508.25,430 514.45,430" fill="#ff00ff"/>
<polygon points="562.3,470.6 559.2,476.1 565.4,476.1" fill="#ff00ff"/>
<polygon points="613.25,483.7 610.15,489.2 616.35,489.2" fill="#ff00ff"/>
<polygon points="664.2,461.5 661.1,467 667.3,467" fill="#ff00ff"/>
<line x1="625.1" y1="322.6" x2="636" y2="322.6" stroke="#111111" stroke-width="1.2"/>
<line x1="641.6" y1="322.6" x2="652.1" y2="322.6" stroke="#111111" stroke-width="1.2"/>
<rect x="636.6" y="320.4" width="4.4" height="4.4" fill="#555555"/>
<text transform="translate(655.26,326.1) scale(1.1200,1) rotate(0.03)" font-size="10.4" fill="#262626" stroke="#262626" stroke-width="0.12">Dimethoate</text>
<line x1="625.1" y1="337.3" x2="636.3" y2="337.3" stroke="#2222ff" stroke-width="1.5"/>
<line x1="641.3" y1="337.3" x2="652.1" y2="337.3" stroke="#2222ff" stroke-width="1.5"/>
<circle cx="638.8" cy="337.3" r="2.5" fill="#0000ff"/>
<text transform="translate(655.26,340.6) scale(1.1200,1) rotate(0.03)" font-size="10.4" fill="#262626" stroke="#262626" stroke-width="0.12">Ethion</text>
<line x1="625.1" y1="351.8" x2="635.9" y2="351.8" stroke="#ff00ff" stroke-width="1.5"/>
<line x1="641.7" y1="351.8" x2="652.1" y2="351.8" stroke="#ff00ff" stroke-width="1.5"/>
<polygon points="638.8,348.68 635.8,353.88 641.8,353.88" fill="#ff00ff"/>
<text transform="translate(655.26,355.2) scale(1.1200,1) rotate(0.03)" font-size="10.4" fill="#262626" stroke="#262626" stroke-width="0.12">Phorate</text>
</svg>
</body></html>
